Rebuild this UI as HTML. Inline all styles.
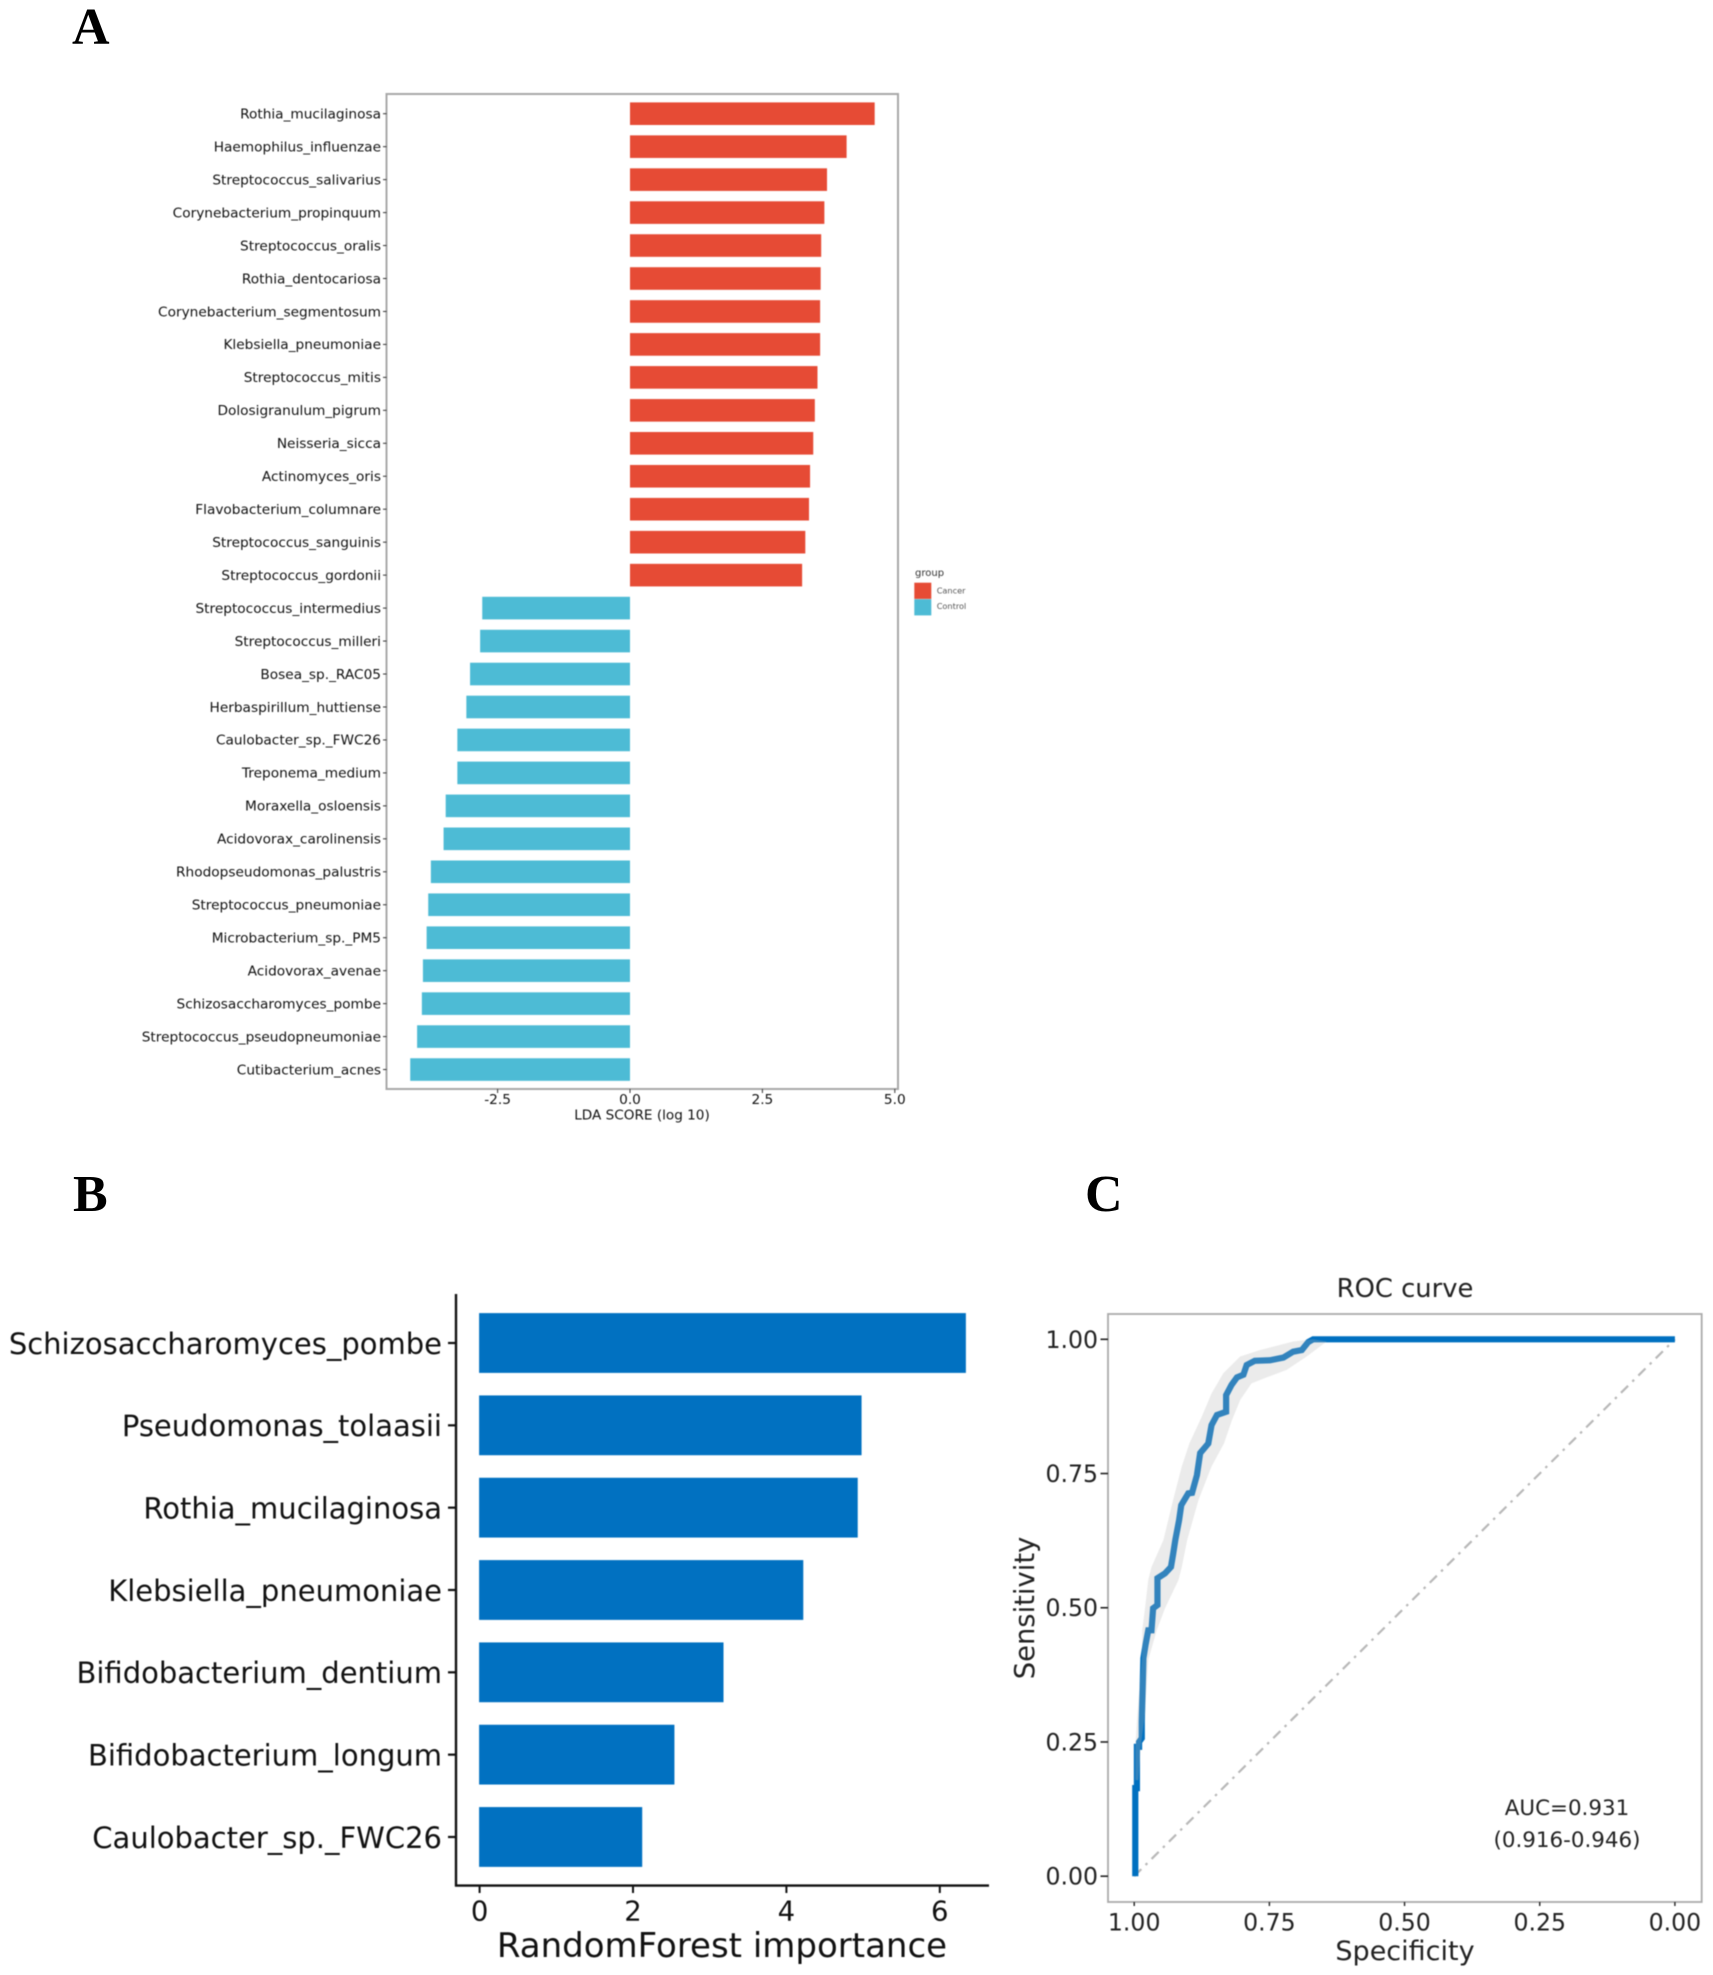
<!DOCTYPE html>
<html lang="en">
<head>
<meta charset="utf-8">
<title>LDA, RandomForest and ROC panels</title>
<style>
  html, body { margin: 0; padding: 0; background: #fff; }
  svg { display: block; }
  text { font-family: "DejaVu Sans", "Liberation Sans", sans-serif; }
  .letter { font-family: "Liberation Serif", serif; font-weight: bold; font-size: 52px; fill: #000; }
  .soft { filter: blur(0.6px); }
  .softer { filter: blur(0.4px); }
</style>
</head>
<body>
<svg id="figure" xmlns="http://www.w3.org/2000/svg" width="1713" height="1975" viewBox="0 0 1713 1975">
  <rect x="0" y="0" width="1713" height="1975" fill="#fff"/>
  <text class="letter" x="72" y="44">A</text>
  <text class="letter" x="73" y="1211">B</text>
  <text class="letter" x="1085" y="1211">C</text>
  <g id="panelA" class="soft"></g>
  <g id="panelB" class="softer"></g>
  <g id="panelC" class="softer"></g>
</svg>
<script>
// ---- Panel A: LDA scores ----
const ldaCategories = ["Rothia_mucilaginosa","Haemophilus_influenzae","Streptococcus_salivarius","Corynebacterium_propinquum","Streptococcus_oralis","Rothia_dentocariosa","Corynebacterium_segmentosum","Klebsiella_pneumoniae","Streptococcus_mitis","Dolosigranulum_pigrum","Neisseria_sicca","Actinomyces_oris","Flavobacterium_columnare","Streptococcus_sanguinis","Streptococcus_gordonii","Streptococcus_intermedius","Streptococcus_milleri","Bosea_sp._RAC05","Herbaspirillum_huttiense","Caulobacter_sp._FWC26","Treponema_medium","Moraxella_osloensis","Acidovorax_carolinensis","Rhodopseudomonas_palustris","Streptococcus_pneumoniae","Microbacterium_sp._PM5","Acidovorax_avenae","Schizosaccharomyces_pombe","Streptococcus_pseudopneumoniae","Cutibacterium_acnes"];
const ldaValues = [4.62,4.09,3.72,3.67,3.61,3.60,3.59,3.59,3.54,3.49,3.46,3.40,3.38,3.31,3.25,-2.79,-2.83,-3.02,-3.09,-3.26,-3.26,-3.48,-3.52,-3.76,-3.81,-3.84,-3.91,-3.93,-4.02,-4.15];
const ldaTicks = [-2.5,0,2.5,5];
const ldaTickLabels = ["-2.5","0.0","2.5","5.0"];
const ldaLegendLabels = ["Cancer","Control"];

// ---- Panel B: RandomForest importance ----
const rfCategories = ["Schizosaccharomyces_pombe","Pseudomonas_tolaasii","Rothia_mucilaginosa","Klebsiella_pneumoniae","Bifidobacterium_dentium","Bifidobacterium_longum","Caulobacter_sp._FWC26"];
const rfValues = [6.34,4.98,4.93,4.22,3.18,2.54,2.12];
const rfTicks = [0,2,4,6];

// ---- Panel C: ROC curve ----
const rocSpecificity = [0.998,0.998,0.995,0.995,0.991,0.991,0.986,0.986,0.984,0.983,0.979,0.974,0.968,0.965,0.957,0.957,0.943,0.932,0.928,0.924,0.917,0.913,0.900,0.893,0.884,0.878,0.863,0.857,0.847,0.830,0.830,0.820,0.810,0.798,0.792,0.777,0.749,0.724,0.706,0.690,0.678,0.669,0];
const rocSensitivity = [0,0.164,0.164,0.241,0.241,0.250,0.257,0.288,0.365,0.406,0.431,0.458,0.458,0.499,0.505,0.555,0.564,0.576,0.600,0.626,0.663,0.691,0.713,0.714,0.747,0.788,0.806,0.840,0.859,0.865,0.896,0.915,0.929,0.934,0.952,0.960,0.961,0.966,0.977,0.980,0.995,1,1];
const ciUpperSpecificity = [0.998,0.998,0.994,0.986,0.985,0.980,0.974,0.968,0.946,0.928,0.912,0.898,0.875,0.857,0.835,0.804,0.767,0.706,0.669];
const ciUpperSensitivity = [0.179,0.241,0.303,0.403,0.459,0.499,0.552,0.576,0.626,0.701,0.763,0.806,0.856,0.899,0.937,0.968,0.980,0.996,1.0];
const ciLowerSpecificity = [0.992,0.988,0.980,0.974,0.958,0.943,0.918,0.912,0.902,0.881,0.857,0.834,0.819,0.804,0.783,0.755,0.718,0.681,0.644];
const ciLowerSensitivity = [0.179,0.241,0.303,0.403,0.459,0.499,0.552,0.576,0.626,0.701,0.763,0.806,0.850,0.887,0.918,0.929,0.943,0.968,0.996];
const rocTicks = [0,0.25,0.5,0.75,1];
const rocTickLabels = ["0.00","0.25","0.50","0.75","1.00"];

const NS = "http://www.w3.org/2000/svg";
function mk(parent, tag, attrs, content) {
  const el = document.createElementNS(NS, tag);
  for (const k in attrs) el.setAttribute(k, attrs[k]);
  if (content !== undefined) el.textContent = content;
  parent.appendChild(el);
  return el;
}

// ---------- Panel A ----------
(function () {
  const g = document.getElementById("panelA");
  const x = v => 630 + v * 52.96;
  const y = i => 113.7 + i * 32.96;
  const h = 22.6;
  const frame = mk(g, "rect", {x: 386.5, y: 94, width: 511.5, height: 995, fill: "none", stroke: "#a8a8a8", "stroke-width": 2});
  
  
  ldaCategories.forEach((name, i) => {
    const v = ldaValues[i];
    const bar = mk(g, "rect", {x: Math.min(x(0), x(v)), y: y(i) - h / 2, width: Math.abs(x(v) - x(0)), height: h, fill: v >= 0 ? "#E64B35" : "#4DBBD5"});
    
    
    const tick = mk(g, "line", {x1: 383, x2: 386.5, y1: y(i), y2: y(i), stroke: "#333", "stroke-width": 1});
    
    
    const label = mk(g, "text", {x: 381, y: y(i), dy: "0.35em", "text-anchor": "end", "font-size": 13.7, fill: "#111"}, name);
    
    
  });
  ldaTicks.forEach((t, i) => {
    const tick = mk(g, "line", {x1: x(t), x2: x(t), y1: 1089, y2: 1093, stroke: "#333", "stroke-width": 1});
    
    
    const label = mk(g, "text", {x: x(t), y: 1104, "text-anchor": "middle", "font-size": 13.7, fill: "#111"}, ldaTickLabels[i]);
    
    
  });
  const title = mk(g, "text", {x: 642, y: 1119.5, "text-anchor": "middle", "font-size": 13.6, fill: "#111"}, "LDA SCORE (log 10)");
  
  
  const lt = mk(g, "text", {x: 915, y: 576, "font-size": 10, fill: "#333"}, "group");
  
  
  ["#E64B35", "#4DBBD5"].forEach((c, i) => {
    const sw = mk(g, "rect", {x: 914.3, y: 582.7 + i * 16.5, width: 17, height: 16.2, fill: c});
    
    
    const tx = mk(g, "text", {x: 936.7, y: 593.5 + i * 15.5, "font-size": 8.2, fill: "#555"}, ldaLegendLabels[i]);
    
    
  });
})();

// ---------- Panel B ----------
(function () {
  const g = document.getElementById("panelB");
  const x = v => 479.6 + v * 76.7;
  const y = i => 1343 + i * 82.33;
  const h = 59.8;
  rfCategories.forEach((name, i) => {
    const bar = mk(g, "rect", {x: x(0) - 0.5, y: y(i) - h / 2, width: x(rfValues[i]) - x(0) + 0.5, height: h, fill: "#0171C1"});
    
    
    const tick = mk(g, "line", {x1: 448, x2: 456, y1: y(i), y2: y(i), stroke: "#111", "stroke-width": 2.2});
    
    
    const label = mk(g, "text", {x: 442, y: y(i) + 1.5, dy: "0.32em", "text-anchor": "end", "font-size": 29, fill: "#111"}, name);
    
    
  });
  const ay = mk(g, "line", {x1: 456, x2: 456, y1: 1294, y2: 1886.5, stroke: "#111", "stroke-width": 2.4});
  
  
  const ax = mk(g, "line", {x1: 455, x2: 989, y1: 1885.6, y2: 1885.6, stroke: "#111", "stroke-width": 2.4});
  
  
  rfTicks.forEach(t => {
    const tick = mk(g, "line", {x1: x(t), x2: x(t), y1: 1886, y2: 1893, stroke: "#111", "stroke-width": 2});
    
    
    const label = mk(g, "text", {x: x(t), y: 1920.5, "text-anchor": "middle", "font-size": 27.5, fill: "#111"}, String(t));
    
    
  });
  const title = mk(g, "text", {x: 722, y: 1957, "text-anchor": "middle", "font-size": 34, fill: "#111"}, "RandomForest importance");
  
  
})();

// ---------- Panel C ----------
(function () {
  const g = document.getElementById("panelC");
  const x = s => 1674.9 - s * 540.7;
  const y = s => 1876.2 - s * 536.9;
  const frame = mk(g, "rect", {x: 1108, y: 1314, width: 593.7, height: 588, fill: "#fff", stroke: "#aaa", "stroke-width": 1.8});
  
  
  const diag = mk(g, "line", {x1: x(1), y1: y(0), x2: x(0), y2: y(1), stroke: "#b8b8b8", "stroke-width": 2.2, "stroke-dasharray": "10 6 2.5 6"});
  
  

  let d = "M" + x(rocSpecificity[0]) + " " + y(rocSensitivity[0]);
  for (let i = 1; i < rocSpecificity.length; i++) {
    d += " L" + x(rocSpecificity[i]) + " " + y(rocSensitivity[i]);
  }
  const curve = mk(g, "path", {d: d, fill: "none", stroke: "#0070C0", "stroke-width": 6.2, "stroke-linejoin": "miter", "stroke-miterlimit": 2});
  
  

  const pts = [];
  ciUpperSpecificity.forEach((s, i) => pts.push(x(s) + "," + y(ciUpperSensitivity[i])));
  for (let i = ciLowerSpecificity.length - 1; i >= 0; i--) pts.push(x(ciLowerSpecificity[i]) + "," + y(ciLowerSensitivity[i]));
  const band = mk(g, "polygon", {points: pts.join(" "), fill: "#b6b6b6", "fill-opacity": 0.275});
  
  

  rocTicks.forEach((t, i) => {
    const ty = mk(g, "line", {x1: 1100.5, x2: 1108, y1: y(t), y2: y(t), stroke: "#222", "stroke-width": 1.6});
    
    
    const ly = mk(g, "text", {x: 1098, y: y(t), dy: "0.36em", "text-anchor": "end", "font-size": 23.6, fill: "#222"}, rocTickLabels[i]);
    
    
    const tx = mk(g, "line", {x1: x(t), x2: x(t), y1: 1902, y2: 1906, stroke: "#222", "stroke-width": 1.4});
    
    
    const lx = mk(g, "text", {x: x(t), y: 1930.5, "text-anchor": "middle", "font-size": 23.6, fill: "#222"}, rocTickLabels[i]);
    
    
  });
  const title = mk(g, "text", {x: 1405, y: 1297, "text-anchor": "middle", "font-size": 25.8, fill: "#222"}, "ROC curve");
  
  
  const xt = mk(g, "text", {x: 1405, y: 1960, "text-anchor": "middle", "font-size": 27, fill: "#222"}, "Specificity");
  
  
  const yt = mk(g, "text", {transform: "translate(1034 1608) rotate(-90)", "text-anchor": "middle", "font-size": 27.4, fill: "#222"}, "Sensitivity");
  
  
  const a1 = mk(g, "text", {x: 1567, y: 1815, "text-anchor": "middle", "font-size": 21.4, fill: "#222"}, "AUC=0.931");
  
  
  const a2 = mk(g, "text", {x: 1567, y: 1847, "text-anchor": "middle", "font-size": 21.4, fill: "#222"}, "(0.916-0.946)");
  
  
})();
</script>
</body>
</html>
